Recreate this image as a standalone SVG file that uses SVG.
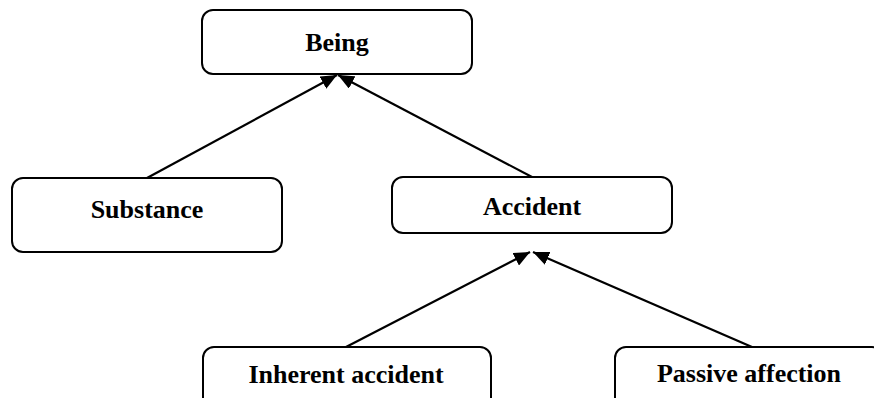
<svg xmlns="http://www.w3.org/2000/svg" width="874" height="398" viewBox="0 0 874 398">
<style>
.box{fill:#fff;stroke:#000;stroke-width:2}
.lbl{font-family:"Liberation Serif","Times New Roman",serif;font-weight:bold;font-size:26px;text-anchor:middle;fill:#000}
.edge{stroke:#000;stroke-width:2.2;fill:none;marker-end:url(#arr)}
</style>
<defs>
<marker id="arr" markerUnits="userSpaceOnUse" viewBox="0 0 16 14" refX="16" refY="7" markerWidth="16" markerHeight="14" orient="auto">
<path d="M0,0 L16,7 L0,14 z" fill="#000"/>
</marker>
</defs>
<rect width="874" height="398" fill="#fff"/>
<g id="connectors">
<line class="edge" x1="147" y1="178" x2="337" y2="75"/>
<line class="edge" x1="532" y1="177" x2="338" y2="75"/>
<line class="edge" x1="346" y1="347" x2="530" y2="252"/>
<line class="edge" x1="752" y1="347" x2="533" y2="252"/>
</g>
<g id="being">
<rect class="box" x="202" y="10" width="270" height="64" rx="11"/>
<text class="lbl" x="337" y="51">Being</text>
</g>
<g id="substance">
<rect class="box" x="12" y="178" width="270" height="74" rx="11"/>
<text class="lbl" x="147" y="218">Substance</text>
</g>
<g id="accident">
<rect class="box" x="392" y="177" width="280" height="56" rx="11"/>
<text class="lbl" x="532" y="215">Accident</text>
</g>
<g id="inherent">
<rect class="box" x="203" y="347" width="288" height="70" rx="11"/>
<text class="lbl" x="346" y="383">Inherent accident</text>
</g>
<g id="passive">
<rect class="box" x="615" y="347" width="268" height="70" rx="11"/>
<text class="lbl" x="749" y="382">Passive affection</text>
</g>
</svg>
